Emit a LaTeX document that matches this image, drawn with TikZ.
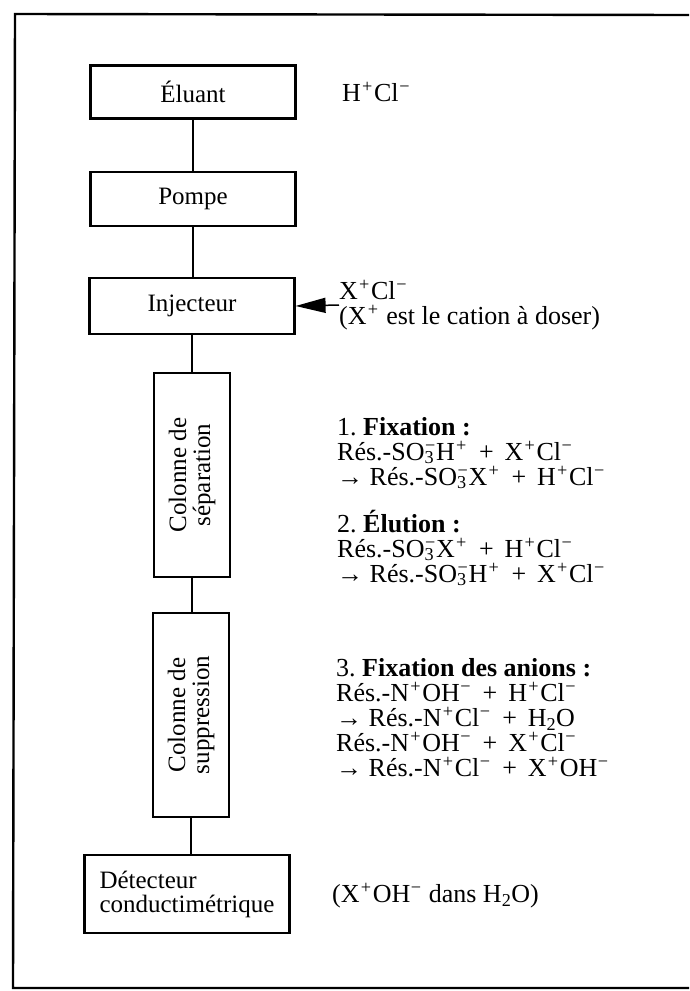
\documentclass[tikz,border=0pt]{standalone}
\usepackage{fontspec}
\setmainfont{Liberation Serif}
\usetikzlibrary{arrows.meta}
\newcommand{\ionp}{\kern1.2pt\textsuperscript{+}\kern1.2pt}
\newcommand{\ionm}{\kern0.6pt\textsuperscript{−}\kern0.6pt}
\newcommand{\idx}[1]{\textsubscript{#1}}
\newcommand{\sulfo}{SO\rlap{\ionm}\idx{3}\kern2pt}
\newcommand{\react}{\hspace{0.42em}+\hspace{0.42em}}
\tikzset{
  unit/.style={draw,line width=2.2pt,minimum width=205pt,minimum height=54pt,inner sep=4pt},
  column/.style={draw,line width=2.2pt,minimum width=204pt,minimum height=76pt,rotate=90,align=center},
  note/.style={anchor=west,inner sep=0pt,align=left,font=\fontsize{26}{25}\selectfont},
  pipe/.style={line width=1.5pt}
}

\begin{document}
\begin{tikzpicture}[x=1pt,y=-1pt,font=\fontsize{25}{24}\selectfont]
\useasboundingbox (0,0) rectangle (689,991);
% cadre
\draw[line width=2.4pt] (689,15) -- (15,14) -- (13,988) -- (689,988);

% chaine
\node[unit,minimum height=53pt] (eluant) at (193,92) {Éluant};
\node[unit] (pompe) at (193,199) {Pompe};
\node[unit,minimum height=56pt] (injecteur) at (192,306) {Injecteur};
\node[column] (separation) at (192,475) {Colonne de\\séparation};
\node[column] (suppression) at (191,715) {Colonne de\\suppression};
\node[unit,align=left,minimum height=78pt] (detecteur) at (187,894) {Détecteur\\conductimétrique};

\draw[pipe] (eluant.south) -- (eluant.south |- pompe.north);
\draw[pipe] (pompe.south) -- (pompe.south |- injecteur.north);
\draw[pipe] (injecteur.south) -- (injecteur.south |- separation.east);
\draw[pipe] (separation.west) -- (separation.west |- suppression.east);
\draw[pipe] (suppression.west) -- (suppression.west |- detecteur.north);

% textes
\node[note] (eluantnote) at (342,92) {H\ionp Cl\ionm};
\node[note] (injnote) at (339,305) {X\ionp Cl\ionm\\(X\ionp\ est le cation à doser)};
\draw[pipe,-{Triangle[length=30pt,width=15pt]}] (injnote.west) -- (injecteur.east);

\node[note] (fix1) at (337,453) {1.\ \textbf{Fixation :}\\
  Rés.-\sulfo H\ionp\react X\ionp Cl\ionm\\
  → Rés.-\sulfo X\ionp\react H\ionp Cl\ionm};
\node[note] (elu2) at (337,548) {2.\ \textbf{Élution :}\\
  Rés.-\sulfo X\ionp\react H\ionp Cl\ionm\\
  → Rés.-\sulfo H\ionp\react X\ionp Cl\ionm};
\node[note] (fix3) at (336,718) {3.\ \textbf{Fixation des anions :}\\
  Rés.-N\ionp OH\ionm\react H\ionp Cl\ionm\\
  → Rés.-N\ionp Cl\ionm\react H\idx{2}O\\
  Rés.-N\ionp OH\ionm\react X\ionp Cl\ionm\\
  → Rés.-N\ionp Cl\ionm\react X\ionp OH\ionm};
\node[note] (detnote) at (332,896) {(X\ionp OH\ionm\ dans H\idx{2}O)};
\end{tikzpicture}
\end{document}
